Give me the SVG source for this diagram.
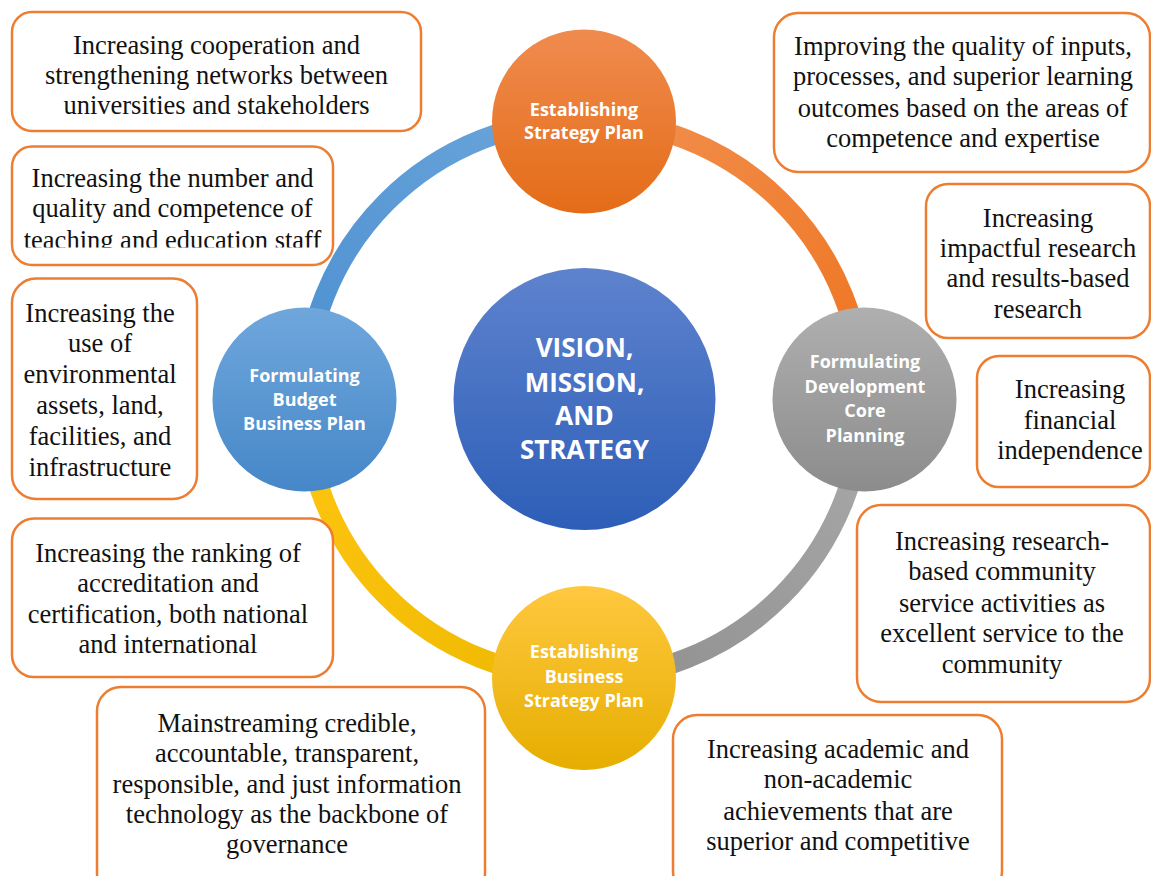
<svg xmlns="http://www.w3.org/2000/svg" width="1151" height="876" viewBox="0 0 1151 876">
<defs>
<linearGradient id="gOrange" x1="0" y1="0" x2="0" y2="1"><stop offset="0" stop-color="#F08B4F"/><stop offset="1" stop-color="#E46C17"/></linearGradient>
<linearGradient id="gBlue" x1="0" y1="0" x2="0" y2="1"><stop offset="0" stop-color="#6FA7DC"/><stop offset="1" stop-color="#4687C8"/></linearGradient>
<linearGradient id="gGray" x1="0" y1="0" x2="0" y2="1"><stop offset="0" stop-color="#AFAFAF"/><stop offset="1" stop-color="#8C8C8C"/></linearGradient>
<linearGradient id="gYellow" x1="0" y1="0" x2="0" y2="1"><stop offset="0" stop-color="#FFC83F"/><stop offset="1" stop-color="#E6AE00"/></linearGradient>
<linearGradient id="gCenter" x1="0" y1="0" x2="0" y2="1"><stop offset="0" stop-color="#5E83CE"/><stop offset="1" stop-color="#2D5EB7"/></linearGradient>
<linearGradient id="aBlue" gradientUnits="userSpaceOnUse" x1="305" y1="399" x2="584" y2="120"><stop offset="0" stop-color="#4C8FD0"/><stop offset="1" stop-color="#6CA6DB"/></linearGradient>
<linearGradient id="aOrange" gradientUnits="userSpaceOnUse" x1="584" y1="120" x2="863" y2="399"><stop offset="0" stop-color="#F2904F"/><stop offset="1" stop-color="#EE7420"/></linearGradient>
<linearGradient id="aGray" gradientUnits="userSpaceOnUse" x1="863" y1="399" x2="584" y2="678"><stop offset="0" stop-color="#A9A9A9"/><stop offset="1" stop-color="#8F8F8F"/></linearGradient>
<linearGradient id="aYellow" gradientUnits="userSpaceOnUse" x1="584" y1="678" x2="305" y2="399"><stop offset="0" stop-color="#EEB800"/><stop offset="1" stop-color="#FFC611"/></linearGradient>
<clipPath id="clipB"><rect x="0" y="140" width="340" height="107.5"/></clipPath>
</defs>
<style>
.box{fill:#FFFFFF;stroke:#ED7D31;stroke-width:2.5}
.bt{font-family:"Liberation Serif","Times New Roman",serif;font-size:26.5px;fill:#111111;text-anchor:middle}
.ct{font-family:"Open Sans","Noto Sans",sans-serif;font-weight:bold;font-size:18px;fill:#FFFFFF;text-anchor:middle}
.cc{font-family:"Open Sans","Noto Sans",sans-serif;font-weight:bold;font-size:26px;fill:#FFFFFF;text-anchor:middle}
.arc{fill:none;stroke-width:20}
</style>
<rect width="1151" height="876" fill="#FFFFFF"/>
<g id="connectors">
<path class="arc" stroke="url(#aBlue)" d="M305,399 A279,279 0 0 1 584,120"/>
<path class="arc" stroke="url(#aOrange)" d="M584,120 A279,279 0 0 1 863,399"/>
<path class="arc" stroke="url(#aGray)" d="M863,399 A279,279 0 0 1 584,678"/>
<path class="arc" stroke="url(#aYellow)" d="M584,678 A279,279 0 0 1 305,399"/>
</g>
<g id="center">
<circle cx="584.5" cy="399" r="131" fill="url(#gCenter)"/>
<text class="cc"><tspan x="584.5" y="357">VISION,</tspan><tspan x="584.5" y="392">MISSION,</tspan><tspan x="584.5" y="425">AND</tspan><tspan x="584.5" y="459">STRATEGY</tspan></text>
</g>
<g id="node-top">
<circle cx="584" cy="121.5" r="92" fill="url(#gOrange)"/>
<text class="ct"><tspan x="584" y="116">Establishing</tspan><tspan x="584" y="139">Strategy Plan</tspan></text>
</g>
<g id="node-left">
<circle cx="304.5" cy="399.5" r="92" fill="url(#gBlue)"/>
<text class="ct"><tspan x="304.5" y="382">Formulating</tspan><tspan x="304.5" y="406">Budget</tspan><tspan x="304.5" y="430">Business Plan</tspan></text>
</g>
<g id="node-right">
<circle cx="864.5" cy="399.5" r="92" fill="url(#gGray)"/>
<text class="ct" fill="#F4F4F4"><tspan x="865" y="368">Formulating</tspan><tspan x="865" y="393">Development</tspan><tspan x="865" y="417">Core</tspan><tspan x="865" y="442">Planning</tspan></text>
</g>
<g id="node-bottom">
<circle cx="584" cy="678" r="92" fill="url(#gYellow)"/>
<text class="ct"><tspan x="584" y="658">Establishing</tspan><tspan x="584" y="683">Business</tspan><tspan x="584" y="707">Strategy Plan</tspan></text>
</g>
<g id="box-cooperation">
<rect class="box" x="12" y="12" width="409" height="119" rx="20"/>
<text class="bt"><tspan x="216.5" y="53.5">Increasing cooperation and</tspan><tspan x="216.5" y="83.5">strengthening networks between</tspan><tspan x="216.5" y="113.5">universities and stakeholders</tspan></text>
</g>
<g id="box-staff">
<rect class="box" x="12" y="146.5" width="321" height="118.5" rx="20"/>
<text class="bt" clip-path="url(#clipB)"><tspan x="172.5" y="187">Increasing the number and</tspan><tspan x="172.5" y="217">quality and competence of</tspan><tspan x="172.5" y="249">teaching and education staff</tspan></text>
</g>
<g id="box-assets">
<rect class="box" x="12" y="278.5" width="185" height="220.5" rx="24"/>
<text class="bt"><tspan x="100" y="321.7">Increasing the</tspan><tspan x="100" y="352">use of</tspan><tspan x="100" y="383.3">environmental</tspan><tspan x="100" y="414">assets, land,</tspan><tspan x="100" y="445">facilities, and</tspan><tspan x="100" y="475.5">infrastructure</tspan></text>
</g>
<g id="box-ranking">
<rect class="box" x="12" y="518.5" width="321" height="158.5" rx="22"/>
<text class="bt"><tspan x="168" y="561.7">Increasing the ranking of</tspan><tspan x="168" y="591.7">accreditation and</tspan><tspan x="168" y="622.7">certification, both national</tspan><tspan x="168" y="652.7">and international</tspan></text>
</g>
<g id="box-it">
<rect class="box" x="97" y="687" width="388" height="210" rx="24"/>
<text class="bt"><tspan x="287" y="731.7">Mainstreaming credible,</tspan><tspan x="287" y="761.7">accountable, transparent,</tspan><tspan x="287" y="793.3">responsible, and just information</tspan><tspan x="287" y="823.3">technology as the backbone of</tspan><tspan x="287" y="853.3">governance</tspan></text>
</g>
<g id="box-quality">
<rect class="box" x="774" y="13" width="376" height="159" rx="24"/>
<text class="bt"><tspan x="963" y="55">Improving the quality of inputs,</tspan><tspan x="963" y="85">processes, and superior learning</tspan><tspan x="963" y="116.7">outcomes based on the areas of</tspan><tspan x="963" y="146.7">competence and expertise</tspan></text>
</g>
<g id="box-research">
<rect class="box" x="926" y="184" width="224" height="154" rx="22"/>
<text class="bt"><tspan x="1038" y="226.7">Increasing</tspan><tspan x="1038" y="256.7">impactful research</tspan><tspan x="1038" y="287.3">and results-based</tspan><tspan x="1038" y="318.3">research</tspan></text>
</g>
<g id="box-finance">
<rect class="box" x="977" y="356" width="173" height="131" rx="22"/>
<text class="bt"><tspan x="1070" y="398.3">Increasing</tspan><tspan x="1070" y="429.3">financial</tspan><tspan x="1070" y="459.3">independence</tspan></text>
</g>
<g id="box-community">
<rect class="box" x="857" y="505" width="293" height="197" rx="24"/>
<text class="bt"><tspan x="1002" y="550">Increasing research-</tspan><tspan x="1002" y="580">based community</tspan><tspan x="1002" y="611.7">service activities as</tspan><tspan x="1002" y="641.7">excellent service to the</tspan><tspan x="1002" y="673.3">community</tspan></text>
</g>
<g id="box-achievement">
<rect class="box" x="673" y="715" width="329" height="180" rx="24"/>
<text class="bt"><tspan x="838" y="758.3">Increasing academic and</tspan><tspan x="838" y="788.3">non-academic</tspan><tspan x="838" y="820">achievements that are</tspan><tspan x="838" y="850">superior and competitive</tspan></text>
</g>
</svg>
